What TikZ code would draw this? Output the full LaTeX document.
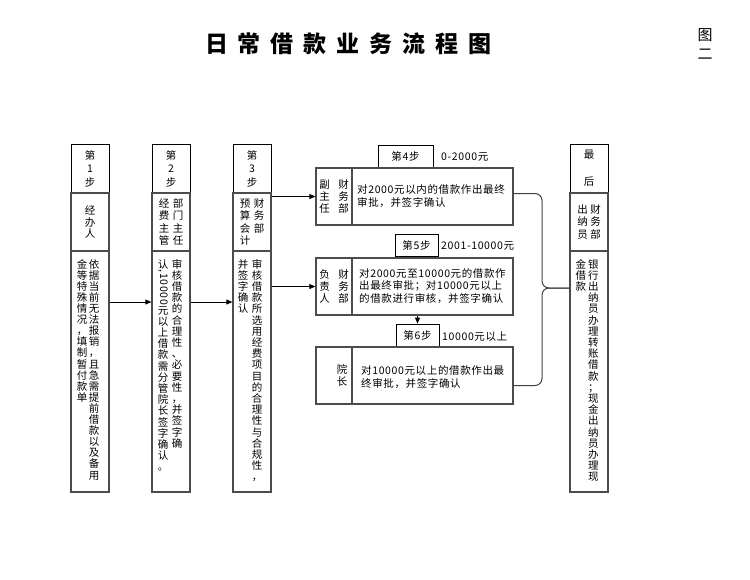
\documentclass[tikz,border=0pt]{standalone}
\usepackage{fontspec}
\usepackage{graphicx}
\setmainfont{Noto Sans CJK SC}[LetterSpace=6]
\newfontfamily\titlefont{Noto Sans CJK SC}
\usetikzlibrary{arrows.meta}

\newcommand\vend{VEND}
\newcommand\vstk[1]{\vstkaux#1\vend}
\def\vstkaux#1{\ifx\vend#1\else\hbox to 11pt{\hss#1\hss}\expandafter\vstkaux\fi}
\newcommand\vcolumn[2][11.2pt]{\vtop{\baselineskip=#1\lineskiplimit=0pt\lineskip=1pt\vstk{#2}}}
% gap, pitch, right column, left column
\newcommand\vtwo[4]{\hbox{\vcolumn[#2]{#4}\hskip#1\relax\vcolumn[#2]{#3}}}

\tikzset{
  every node/.style={font=\fontsize{10.5}{13}\selectfont, inner sep=0pt},
  stepbox/.style={draw=black, line width=0.8pt, minimum width=38pt, minimum height=49pt},
  rolebox/.style={draw=black!70, line width=1.3pt, minimum width=38pt, minimum height=58pt},
  bodybox/.style={draw=black!70, line width=1.3pt, minimum width=38pt, minimum height=241pt},
  midbox/.style={draw=black!70, line width=1.3pt, minimum height=57pt},
  tagbox/.style={draw=black, line width=0.8pt, minimum height=22pt},
  arr/.style={line width=0.8pt, -{Triangle[length=6pt,width=5pt]}},
  bracel/.style={draw=black!75, line width=1pt, rounded corners=7pt},
}

\begin{document}
\begin{tikzpicture}[x=1pt, y=-1pt]
\useasboundingbox (0,0) rectangle (750,579);

% title
\node (title) at (348.5,44) {\titlefont\fontsize{23}{23}\selectfont\bfseries
  日\hspace{10pt}常\hspace{10pt}借\hspace{10pt}款\hspace{10pt}业\hspace{10pt}务\hspace{10pt}流\hspace{10pt}程\hspace{10pt}图};
\node (fig) at (705,44) {\fontsize{15}{15}\selectfont\vcolumn[19.5pt]{图二}};

% column 1
\node[stepbox] (c1s) at (90,168.5) {\vcolumn[13.5pt]{第1步}};
\node[rolebox] (c1r) at (90,222) {\vcolumn[11.8pt]{经办人}};
\node[bodybox] (c1b) at (90,371.5) {};
\node[anchor=north] (c1t) at (88,259) {\vtwo{1pt}{11.1pt}{依据当前无法报销，且急需提前借款以及备用}{金等特殊情况，填制暂付款单}};

% column 2
\node[stepbox] (c2s) at (171,168.5) {\vcolumn[13.5pt]{第2步}};
\node[rolebox] (c2r) at (171,222) {\vtwo{3pt}{12.2pt}{部门主任}{经费主管}};
\node[bodybox] (c2b) at (171,371.5) {};
\node[anchor=north] (c2t) at (170,259) {\vtwo{3pt}{11.2pt}{审核借款的合理性、必要性，并签字确}{认{\rotatebox[origin=c]{-90}{,10000}}元以上借款需分管院长签字确认。}};

% column 3
\node[stepbox] (c3s) at (252,168.5) {\vcolumn[13.5pt]{第3步}};
\node[rolebox] (c3r) at (252,222) {\vtwo{3pt}{12.2pt}{财务部}{预算会计}};
\node[bodybox] (c3b) at (252,371.5) {};
\node[anchor=north] (c3t) at (250,259) {\vtwo{3pt}{11.2pt}{审核借款所选用经费项目的合理性与合规性，}{并签字确认}};

% last column
\node[stepbox] (c4s) at (589,168.5) {\vcolumn[13.5pt]{最~后}};
\node[rolebox] (c4r) at (589,222) {\vtwo{2pt}{12.2pt}{财务部}{出纳员}};
\node[bodybox] (c4b) at (589,371.5) {};
\node[anchor=north] (c4t) at (587,259) {\vtwo{1.5pt}{11.2pt}{银行出纳员办理转账借款；现金出纳员办理现}{金借款}};

% step 4
\node[tagbox, minimum width=55pt] (s4) at (405.5,156) {第4步};
\node[anchor=west] (l4) at (441,157) {0-2000元};
\node[midbox, minimum width=36pt] (b4l) at (334,196.5) {\vtwo{8pt}{12pt}{财务部}{副主任}};
\node[midbox, minimum width=161pt] (b4r) at (432.5,196.5) {};
\node[anchor=north west, align=left, font=\fontsize{10.5}{13.5}\selectfont] (t4) at (357,184)
  {对2000元以内的借款作出最终\\审批，并签字确认};

% step 5
\node[tagbox, minimum width=43pt] (s5) at (416.5,245) {第5步};
\node[anchor=west] (l5) at (441,246) {2001-10000元};
\node[midbox, minimum width=36pt] (b5l) at (334,286.5) {\vtwo{8pt}{12pt}{财务部}{负责人}};
\node[midbox, minimum width=161pt] (b5r) at (432.5,286.5) {};
\node[anchor=north west, align=left, font=\fontsize{10.5}{12.5}\selectfont] (t5) at (359,268)
  {对2000元至10000元的借款作\\出最终审批；对10000元以上\\的借款进行审核，并签字确认};

% step 6
\node[tagbox, minimum width=43pt] (s6) at (417.5,335) {第6步};
\node[anchor=west] (l6) at (442,337) {10000元以上};
\node[midbox, minimum width=36pt] (b6l) at (334,375.5) {};
\node (b6lt) at (342,375.5) {\vcolumn[12pt]{院长}};
\node[midbox, minimum width=161pt] (b6r) at (432.5,375.5) {};
\node[anchor=north west, align=left, font=\fontsize{10.5}{13}\selectfont] (t6) at (361,365)
  {对10000元以上的借款作出最\\终审批，并签字确认};

% connectors
\coordinate (ya) at (0,302);
\draw[arr] (c1b.east |- ya) -- (c2b.west |- ya);
\draw[arr] (c2b.east |- ya) -- (c3b.west |- ya);
\draw[arr] (b4l.west -| c3r.east) -- (b4l.west);
\draw[arr] (b5l.west -| c3b.east) -- (b5l.west);
\draw[arr] (s6.north |- b5r.south) -- (s6.north);

\coordinate (bj) at (542,288);
\draw[bracel] ([yshift=3pt]b4r.east) -| (bj) -- (c4b.west |- bj);
\draw[bracel] ([yshift=-10pt]b6r.east) -| (bj) -- (c4b.west |- bj);
\end{tikzpicture}
\end{document}
